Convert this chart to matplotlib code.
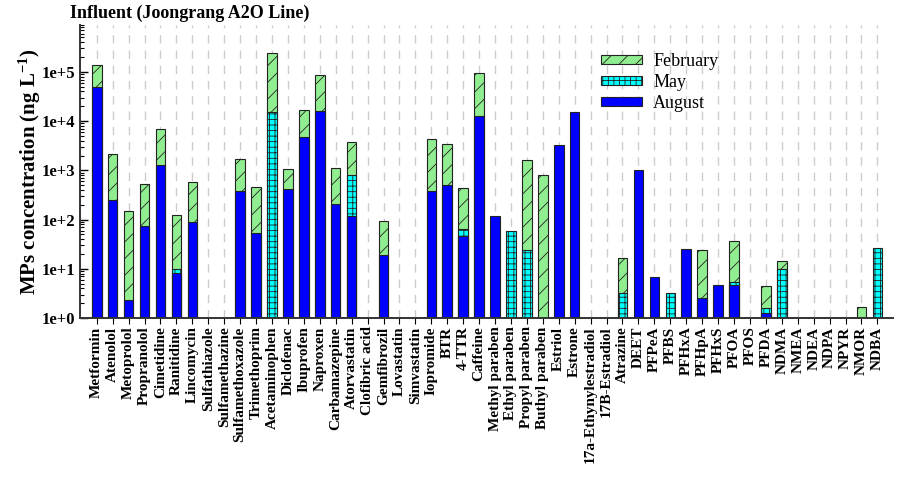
import matplotlib
matplotlib.use("Agg")
import matplotlib.pyplot as plt
import numpy as np
from matplotlib.ticker import FixedLocator, FuncFormatter, LogLocator, NullFormatter

plt.rcParams["font.family"] = ["Liberation Serif", "DejaVu Serif"]
plt.rcParams["mathtext.fontset"] = "custom"
plt.rcParams["mathtext.rm"] = "Liberation Serif"
plt.rcParams["mathtext.bf"] = "Liberation Serif:bold"
plt.rcParams["mathtext.default"] = "bf"
plt.rcParams["hatch.linewidth"] = 0.6

compounds = [
    "Metformin", "Atenolol", "Metoprolol", "Propranolol", "Cimetidine", "Ranitidine",
    "Lincomycin", "Sulfathiazole", "Sulfamethazine", "Sulfamethoxazole", "Trimethoprim",
    "Acetaminophen", "Diclofenac", "Ibuprofen", "Naproxen", "Carbamazepine", "Atorvastatin",
    "Clofibric acid", "Gemfibrozil", "Lovastatin", "Simvastatin", "Iopromide", "BTR",
    "4-TTR", "Caffeine", "Methyl paraben", "Ethyl paraben", "Propyl paraben",
    "Buthyl paraben", "Estriol", "Estrone", "17a-Ethynylestradiol", "17B-Estradiol",
    "Atrazine", "DEET", "PFPeA", "PFBS", "PFHxA", "PFHpA", "PFHxS", "PFOA", "PFOS",
    "PFDA", "NDMA", "NMEA", "NDEA", "NDPA", "NPYR", "NMOR", "NDBA",
]

# ng/L, NaN = not detected
nan = np.nan
february = [
    1.35e5, 2100, 148, 520, 6800, 126, 570, nan, nan, 1680, 450,
    2.37e5, 1050, 1.72e4, 8.5e4, 1100, 3750, nan, 95, nan, nan, 4320, 3410,
    437, 9.4e4, nan, nan, 1630, 805, nan, nan, nan, nan,
    16.9, nan, nan, nan, nan, 24.6, nan, 37, nan,
    4.45, 14.7, nan, nan, nan, nan, 1.65, nan,
]
may = [
    nan, nan, nan, nan, nan, 10, nan, nan, nan, nan, nan,
    1.5e4, nan, nan, nan, nan, 794, nan, nan, nan, nan, nan, nan,
    64, nan, nan, 57.5, 24.6, nan, nan, nan, nan, nan,
    3.25, nan, nan, 3.25, nan, nan, nan, 5.4, nan,
    1.63, 9.75, nan, nan, nan, nan, nan, 27,
]
august = [
    5.0e4, 250, 2.3, 73, 1270, 8.3, 91, nan, nan, 373, 53,
    nan, 423, 4750, 1.59e4, 208, 120, nan, 19.5, nan, nan, 385, 503,
    45.5, 1.28e4, 117, nan, nan, nan, 3260, 1.5e4, nan, nan,
    nan, 1000, 6.9, nan, 25.8, 2.5, 4.6, 4.8, nan,
    1.27, nan, nan, nan, nan, nan, nan, nan,
]

series = [
    ("February", february, "#90ee90", "//"),
    ("May", may, "#00ffff", "+++"),
    ("August", august, "#0000ff", None),
]

fig = plt.figure(figsize=(9.04, 4.79), dpi=100)
ax = fig.add_axes([0.0885, 0.336, 0.899, 0.612])
x = np.arange(len(compounds))

for name, vals, color, hatch in series:
    v = np.array(vals, dtype=float)
    ax.bar(x, v - 1, bottom=1, width=0.6, color=color, edgecolor="#222222",
           linewidth=0.8, hatch=hatch, label=name, zorder=2)

ax.set_yscale("log")
ax.set_ylim(1, 9e5)
ax.set_xlim(-1.05, len(compounds) - 0.04)

ax.yaxis.set_major_locator(FixedLocator([10.0 ** k for k in range(6)]))
ax.yaxis.set_major_formatter(FuncFormatter(lambda v, p: "1e+%d" % round(np.log10(v))))
ax.yaxis.set_minor_locator(LogLocator(base=10, subs=np.arange(2, 10)))
ax.yaxis.set_minor_formatter(NullFormatter())
ax.tick_params(axis="y", which="major", direction="in", length=6, width=1, labelsize=12)
ax.tick_params(axis="y", which="minor", direction="in", length=3, width=0.8)
for lab in ax.get_yticklabels():
    lab.set_fontweight("bold")

ax.set_xticks(x)
ax.set_xticklabels(compounds, rotation=90, fontsize=11, fontweight="bold")
ax.tick_params(axis="x", direction="out", length=4, width=0.8, pad=2)

ax.grid(axis="x", color="#cccccc", linestyle=(0, (6, 5)), linewidth=1)
ax.set_axisbelow(True)
for s in ["top", "right"]:
    ax.spines[s].set_visible(False)
for s in ["left", "bottom"]:
    ax.spines[s].set_linewidth(1.4)
    ax.spines[s].set_color("#333333")

ax.set_ylabel(r"MPs concentration (ng L$^{-1}$)", fontsize=15, fontweight="bold", labelpad=-1)

fig.text(0.077, 0.972, "Influent (Joongrang A2O Line)", fontsize=13, fontweight="bold",
         ha="left", va="center")

ax.legend(loc="upper left", bbox_to_anchor=(0.621, 0.96), frameon=False, fontsize=13,
          handlelength=2.3, handleheight=0.45, labelspacing=0.22, handletextpad=0.6)

fig.savefig("out.png", dpi=100)
